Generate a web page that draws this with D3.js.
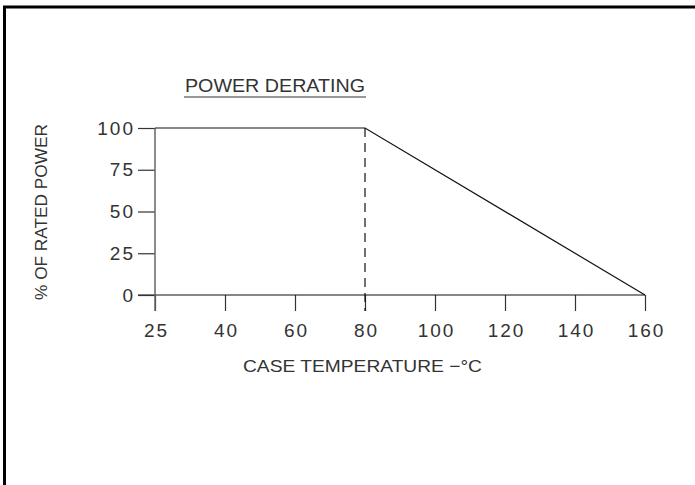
<!DOCTYPE html>
<html>
<head>
<meta charset="utf-8">
<script src="https://cdn.jsdelivr.net/npm/d3@7"></script>
<style>
  body { margin: 0; background: #fff; }
  svg text { font-family: "Liberation Sans", Arial, sans-serif; fill: #333; }
</style>
</head>
<body>
<div id="chart"></div>
<script>
// tick labels on the temperature axis (evenly spaced, not linear)
const tempTicks = [25, 40, 60, 80, 100, 120, 140, 160];
const powerTicks = [0, 25, 50, 75, 100];

// derating curve
const temps = [25, 80, 160];
const power = [100, 100, 0];

const kneeTemp = 80;

const svg = d3.select("#chart").append("svg")
  .attr("width", 695)
  .attr("height", 485);

// frame (top + left only)
svg.append("line")
  .attr("x1", 3).attr("x2", 695).attr("y1", 7).attr("y2", 7)
  .attr("stroke", "#000").attr("stroke-width", 3);
svg.append("line")
  .attr("x1", 4.5).attr("x2", 4.5).attr("y1", 6).attr("y2", 485)
  .attr("stroke", "#000").attr("stroke-width", 3);

const x = d3.scalePoint().domain(tempTicks).range([155, 645]);
const y = d3.scaleLinear().domain([0, 100]).range([295, 128]);

// x axis
const xAxis = svg.append("g")
  .attr("transform", `translate(0,${y(0)})`)
  .call(d3.axisBottom(x).tickSize(16).tickPadding(13));
xAxis.select(".domain").remove();
xAxis.append("line")
  .attr("x1", 138).attr("x2", x(160))
  .attr("stroke", "#111").attr("stroke-width", 1.2);
xAxis.selectAll(".tick line").attr("stroke", "#333").attr("stroke-width", 1.2);
xAxis.selectAll(".tick text")
  .attr("font-size", 19)
  .attr("fill", "#333")
  .attr("dx", 1)
  .style("letter-spacing", "2px")
  .style("font-family", "Liberation Sans, Arial, sans-serif");

// y axis
const yAxis = svg.append("g")
  .attr("transform", `translate(${x(25)},0)`)
  .call(d3.axisLeft(y).tickValues(powerTicks).tickSize(17).tickPadding(3));
yAxis.select(".domain").remove();
yAxis.append("line")
  .attr("y1", y(100)).attr("y2", y(0) + 16)
  .attr("stroke", "#666").attr("stroke-width", 1.5);
yAxis.selectAll(".tick line").attr("stroke", "#333").attr("stroke-width", 1.2);
yAxis.selectAll(".tick text")
  .attr("font-size", 19)
  .attr("fill", "#333")
  .style("letter-spacing", "2px")
  .style("font-family", "Liberation Sans, Arial, sans-serif");

// dashed line at the knee
svg.append("line")
  .attr("x1", x(kneeTemp)).attr("x2", x(kneeTemp))
  .attr("y1", y(100)).attr("y2", y(0) + 16)
  .attr("stroke", "#111").attr("stroke-width", 1.2)
  .attr("stroke-dasharray", "9,6");

// curve
const line = d3.line()
  .x((d, i) => x(temps[i]))
  .y((d, i) => y(power[i]));
svg.append("path")
  .datum(power)
  .attr("fill", "none")
  .attr("stroke", "#111")
  .attr("stroke-width", 1.2)
  .attr("d", line);

// title
svg.append("text")
  .attr("x", 185).attr("y", 92)
  .attr("font-size", 18)
  .attr("textLength", 180)
  .attr("lengthAdjust", "spacingAndGlyphs")
  .text("POWER DERATING");
svg.append("line")
  .attr("x1", 184).attr("x2", 366).attr("y1", 97).attr("y2", 97)
  .attr("stroke", "#333").attr("stroke-width", 1);

// axis titles
svg.append("text")
  .attr("x", 243).attr("y", 372)
  .attr("font-size", 17)
  .attr("textLength", 239)
  .attr("lengthAdjust", "spacingAndGlyphs")
  .text("CASE TEMPERATURE −°C");

svg.append("text")
  .attr("transform", "translate(47,300) rotate(-90)")
  .attr("font-size", 17)
  .attr("textLength", 176)
  .attr("lengthAdjust", "spacingAndGlyphs")
  .text("% OF RATED POWER");
</script>
</body>
</html>
